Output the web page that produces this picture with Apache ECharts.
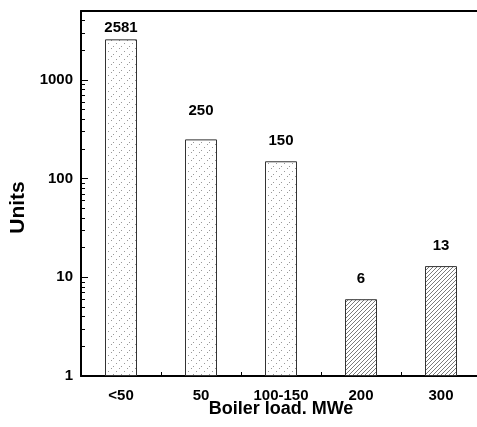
<!DOCTYPE html>
<html>
<head>
<meta charset="utf-8">
<script src="https://cdn.jsdelivr.net/npm/echarts@6/dist/echarts.min.js"></script>
<style>
html,body{margin:0;padding:0;background:#fff;}
#chart{width:477px;height:427px;}
</style>
</head>
<body>
<div id="chart"></div>
<script>
const categories = ['<50', '50', '100-150', '200', '300'];
const units = [2581, 250, 150, 6, 13];
const yMinorTicks = [2, 3, 4, 5, 6, 7, 8, 9,
  20, 30, 40, 50, 60, 70, 80, 90,
  200, 300, 400, 500, 600, 700, 800, 900,
  2000, 3000, 4000];
const yMin = 1;
const yMax = 5000;

function dotPattern() {
  const c = document.createElement('canvas');
  c.width = 8; c.height = 8;
  const ctx = c.getContext('2d');
  ctx.fillStyle = '#fff'; ctx.fillRect(0, 0, 8, 8);
  ctx.fillStyle = '#999';
  ctx.fillRect(1, 6, 1, 1);
  ctx.fillRect(4, 3, 1, 1);
  ctx.fillRect(7, 0, 1, 1);
  return c;
}
function hatchPattern() {
  const c = document.createElement('canvas');
  c.width = 4; c.height = 4;
  const ctx = c.getContext('2d');
  ctx.fillStyle = '#fff'; ctx.fillRect(0, 0, 4, 4);
  ctx.fillStyle = '#7a7a7a';
  for (let i = 0; i < 4; i++) ctx.fillRect(i, 3 - i, 1, 1);
  return c;
}
const dots = dotPattern();
const hatch = hatchPattern();

const font = 'Liberation Sans, Arial, Helvetica, sans-serif';

const labelDistance = [4, 21, 13, 13, 13];
const barData = units.map((v, i) => ({
  value: v,
  itemStyle: { color: { image: i < 3 ? dots : hatch, repeat: 'repeat' } },
  label: { distance: labelDistance[i] }
}));

const chart = echarts.init(document.getElementById('chart'), null, { renderer: 'canvas' });
chart.setOption({
  animation: false,
  backgroundColor: '#fff',
  grid: { left: 81, top: 11, width: 400, height: 365, outerBoundsMode: 'none', containLabel: false },
  xAxis: [
    {
      type: 'category', data: categories, position: 'bottom',
      axisLine: { show: true, lineStyle: { color: '#000', width: 2 } },
      axisTick: { show: true, inside: true, alignWithLabel: true, length: 4, lineStyle: { color: '#000', width: 1 } },
      axisLabel: { color: '#000', fontFamily: font, fontWeight: 'bold', fontSize: 15, margin: 12 },
      name: 'Boiler load. MWe', nameLocation: 'middle', nameGap: 24, nameMoveOverlap: false,
      nameTextStyle: { color: '#000', fontFamily: font, fontWeight: 'bold', fontSize: 18 },
      splitLine: { show: false }
    },
    {
      type: 'category', data: categories, position: 'bottom',
      axisLine: { show: false },
      axisTick: { show: true, inside: true, length: 4, lineStyle: { color: '#000', width: 1 } },
      axisLabel: { show: false },
      splitLine: { show: false }
    },
    {
      type: 'category', data: categories, position: 'top',
      axisLine: { show: true, lineStyle: { color: '#000', width: 2 } },
      axisTick: { show: false },
      axisLabel: { show: false },
      splitLine: { show: false }
    }
  ],
  yAxis: [
    {
      type: 'log', logBase: 10, min: yMin, max: yMax,
      axisLine: { show: true, lineStyle: { color: '#000', width: 2 } },
      axisTick: { show: true, inside: true, length: 7, lineStyle: { color: '#000', width: 1 } },
      axisLabel: {
        color: '#000', fontFamily: font, fontWeight: 'bold', fontSize: 15, margin: 8,
        formatter: function (v) {
          const l = Math.log10(v);
          return Math.abs(l - Math.round(l)) < 1e-6 ? String(Math.round(v)) : '';
        }
      },
      splitLine: { show: false },
      name: 'Units', nameLocation: 'middle', nameGap: 52,
      nameTextStyle: { color: '#000', fontFamily: font, fontWeight: 'bold', fontSize: 21, padding: [0, 28, 0, 0] }
    },
    {
      type: 'value', position: 'left', offset: 0,
      min: Math.log10(yMin), max: Math.log10(yMax),
      axisLine: { show: false },
      axisTick: {
        show: true, inside: true, length: 4,
        customValues: yMinorTicks.map(v => Math.log10(v)),
        lineStyle: { color: '#000', width: 1 }
      },
      axisLabel: { show: false },
      splitLine: { show: false }
    }
  ],
  series: [
    {
      type: 'bar', data: barData, barWidth: '40%', xAxisIndex: 0, yAxisIndex: 0,
      itemStyle: { borderColor: '#333', borderWidth: 1 },
      label: { show: true, position: 'top', color: '#000', fontFamily: font, fontWeight: 'bold', fontSize: 15 }
    }
  ]
});
</script>
</body>
</html>
